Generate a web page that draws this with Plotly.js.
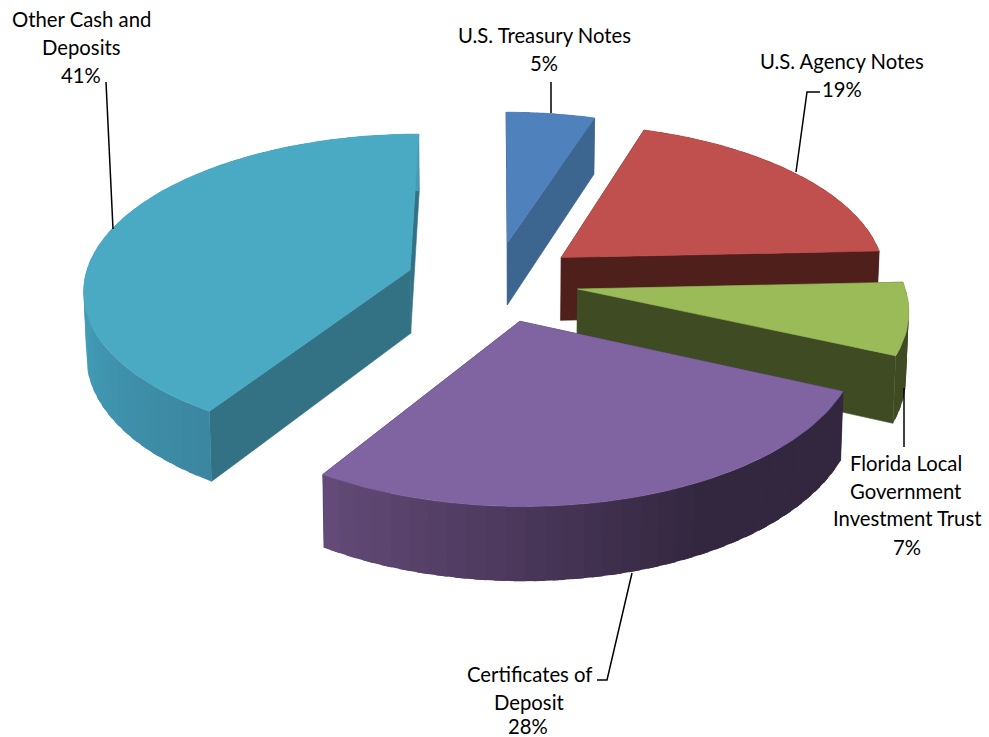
<!DOCTYPE html>
<html><head><meta charset="utf-8">
<script src="https://cdn.plot.ly/plotly-3.0.1.min.js"></script>
<style>html,body{margin:0;padding:0;background:#fff}#c{width:989px;height:737px}</style>
</head><body><div id="c"></div>
<script>
const categories=["U.S. Treasury Notes","U.S. Agency Notes","Florida Local Government Investment Trust","Certificates of Deposit","Other Cash and Deposits"];
const shares=[5,19.3,7.4,27.3,41];
const pulls=[0.262,0.262,0.258,0.262,0.272];
const pctLabels=["5%","19%","7%","28%","41%"];
const topColors=["#4f81bd","#c0504d","#9bbb59","#8064a2","#4aa9c3"];
const edgeColors=["#3c6590","#4f1f1c","#3f4b23","#33263f","#337285"];
const rimStops=[
 [[0,"#3c6590"],[1,"#3c6590"]],
 [[0,"#4f1f1c"],[1,"#4f1f1c"]],
 [[0,"#3f4b23"],[1,"#3f4b23"]],
 [[0,"#33263f"],[0.38,"#33263f"],[1,"#644b79"]],
 [[0,"#3b86a0"],[0.3,"#429cb6"],[1,"#429cb6"]]
];
const drawOrder=[0,1,4,2,3];
const labelLines=[
 [["U.S. Treasury Notes",544,35],["5%",544,63]],
 [["U.S. Agency Notes",842,61],["19%",842,89]],
 [["Florida Local",906,463],["Government",906,491],["Investment Trust",907,518],["7%",907,547]],
 [["Certificates of",529,674],["Deposit",529,702],["28%",528,726]],
 [["Other Cash and",81,19],["Deposits",81,47],["41%",81,75]]
];
const leaderLines=[
 [[551,551],[82,113]],
 [[820,807,796],[92,92,172]],
 [[904,904],[388,447]],
 [[597,607,632],[680,680,573]],
 [[106,113],[82,229]]
];
const cam={ox:494.5,oy:281.5,a:326,b:154,p:0.115,h:64};
const lerp=(a,b,t)=>a+(b-a)*t;
const hex=c=>[1,3,5].map(i=>parseInt(c.substr(i,2),16));
function stopColor(stops,t){
  for(let i=1;i<stops.length;i++){
    if(t<=stops[i][0]){
      const s=stops[i-1],e=stops[i],u=(t-s[0])/((e[0]-s[0])||1),A=hex(s[1]),B=hex(e[1]);
      return "rgb("+A.map((v,k)=>Math.round(lerp(v,B[k],u))).join(",")+")";
    }
  }
  return stops[stops.length-1][1];
}
function project(X,Y,down){
  const w=1/(1-cam.p*Y);
  const sx=cam.ox+cam.a*X*w, sy=cam.oy+cam.b*Y*w;
  if(!down) return [sx,sy];
  return [cam.ox+(sx-cam.ox)*0.993, sy+cam.h*w];
}
function poly(pts,color,lw){
  return {type:"scatter",mode:"lines",x:pts.map(p=>p[0]).concat(pts[0][0]),y:pts.map(p=>p[1]).concat(pts[0][1]),
    fill:"toself",fillcolor:color,line:{color:color,width:lw},hoverinfo:"skip",showlegend:false};
}
const total=shares.reduce((a,b)=>a+b,0);
let acc=0;
const wedges=shares.map(v=>{const s=acc/total*2*Math.PI;acc+=v;return [s,acc/total*2*Math.PI];});
const traces=[];
drawOrder.forEach(i=>{
  const [s,e]=wedges[i],m=(s+e)/2;
  const ex=pulls[i]*Math.sin(m),ey=-pulls[i]*Math.cos(m);
  const pt=(th,down)=>project(ex+Math.sin(th),ey-Math.cos(th),down);
  const apexT=project(ex,ey,false),apexB=project(ex,ey,true);
  traces.push(poly([apexT,pt(s,false),pt(s,true),apexB],edgeColors[i],0.6));
  traces.push(poly([apexT,pt(e,false),pt(e,true),apexB],edgeColors[i],0.6));
  // curved rim: each band runs on under the next one, so no seams show
  const n=Math.max(4,Math.round((e-s)/(Math.PI/60)));
  const sub=6;
  for(let k=0;k<n;k++){
    const pts=[],a0=lerp(s,e,k/n),a1=lerp(s,e,Math.min(n,k+1.6)/n);
    for(let j=0;j<=sub;j++)pts.push(pt(lerp(a0,a1,j/sub),false));
    for(let j=sub;j>=0;j--)pts.push(pt(lerp(a0,a1,j/sub),true));
    traces.push(poly(pts,stopColor(rimStops[i],(k+.5)/n),0));
  }
  const face=[apexT];
  for(let k=0;k<=n*2;k++){const a=lerp(s,e,k/(n*2));face.push(pt(a,false));}
  traces.push(poly(face,topColors[i],0.6));
});
leaderLines.forEach(l=>traces.push({type:"scatter",mode:"lines",x:l[0],y:l[1],line:{color:"#000",width:1.5},hoverinfo:"skip",showlegend:false}));
const annotations=[];
labelLines.forEach(g=>g.forEach(t=>annotations.push({x:t[1],y:t[2],xref:"x",yref:"y",text:t[0],showarrow:false,xanchor:"center",yanchor:"middle",
  font:{family:"Lato, 'Open Sans', sans-serif",size:20.3,color:"#000"}})));
const hidden={visible:false,showgrid:false,zeroline:false,fixedrange:true};
Plotly.newPlot("c",traces,{width:989,height:737,margin:{l:0,r:0,t:0,b:0},paper_bgcolor:"#fff",plot_bgcolor:"#fff",showlegend:false,
  xaxis:Object.assign({range:[0,989]},hidden),yaxis:Object.assign({range:[737,0]},hidden),annotations:annotations},{displayModeBar:false,staticPlot:true});
</script></body></html>
